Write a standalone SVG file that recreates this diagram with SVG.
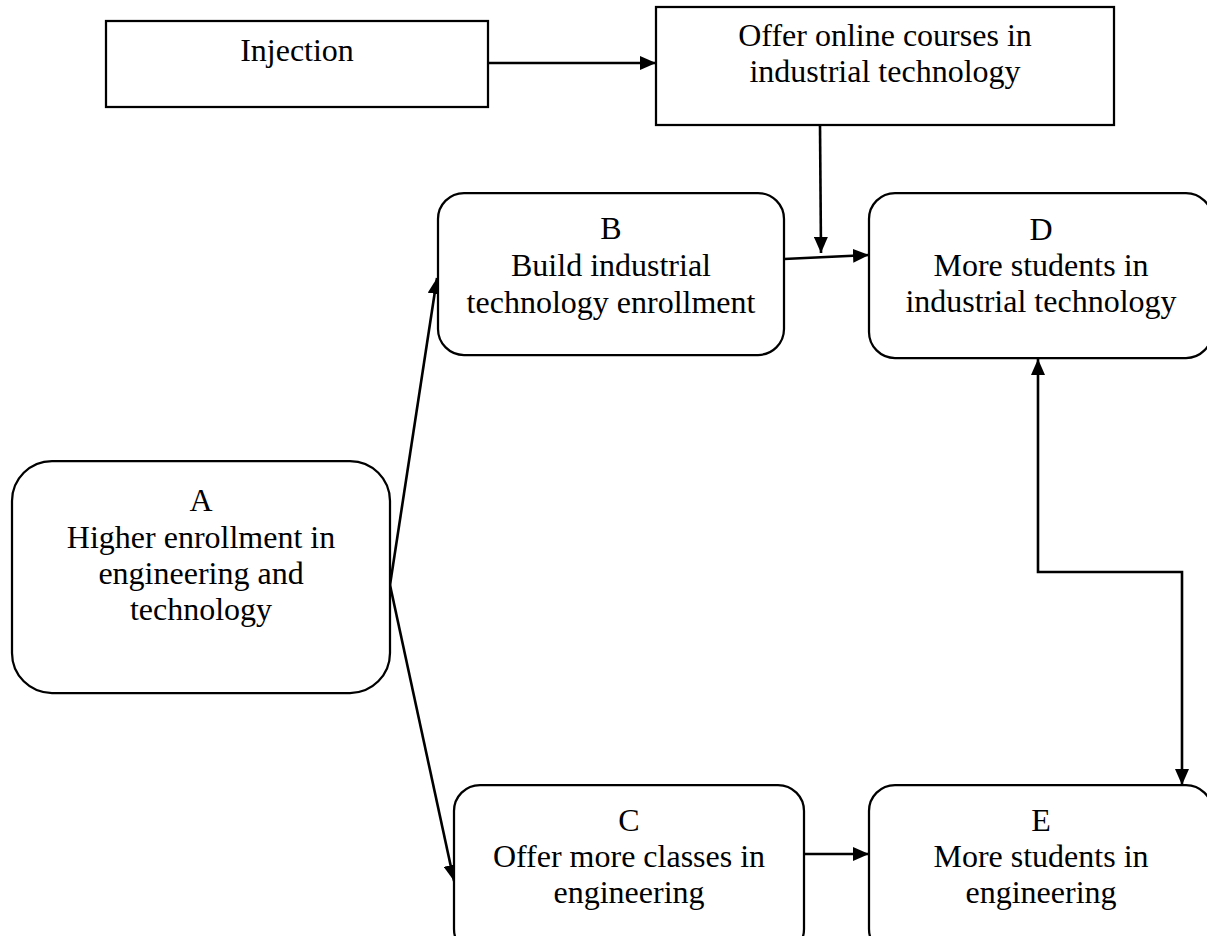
<svg xmlns="http://www.w3.org/2000/svg" width="1207" height="936" viewBox="0 0 1207 936">
  <style>
    .box { fill: #ffffff; stroke: #000000; stroke-width: 2.25; }
    .lbl { font-family: "Liberation Serif", "Times New Roman", serif; font-size: 32px; fill: #000000; text-anchor: middle; }
    .wire { fill: none; stroke: #000000; stroke-width: 2.6; }
  </style>
  <defs>
    <marker id="head" viewBox="0 0 16 14" refX="16" refY="7" markerWidth="16" markerHeight="14" markerUnits="userSpaceOnUse" orient="auto-start-reverse">
      <path d="M0,0 L16,7 L0,14 Z" fill="#000000"/>
    </marker>
  </defs>

  <rect width="1207" height="936" fill="#ffffff"/>

  <!-- connectors -->
  <g id="connectors">
    <path class="wire" d="M488,63 L656,63" marker-end="url(#head)"/>
    <path class="wire" d="M820,125 L821,253" marker-end="url(#head)"/>
    <path class="wire" d="M784,259 L869,255" marker-end="url(#head)"/>
    <path class="wire" d="M390,585 L437,278" marker-end="url(#head)"/>
    <path class="wire" d="M390,585 L454,881" marker-end="url(#head)"/>
    <path class="wire" d="M804,854 L869,854" marker-end="url(#head)"/>
    <path class="wire" d="M1038,359 L1038,572 L1182,572 L1182,785" marker-start="url(#head)" marker-end="url(#head)"/>
  </g>

  <g id="injection">
    <rect class="box" x="106" y="21" width="382" height="86"/>
    <text class="lbl" x="297" y="61">Injection</text>
  </g>

  <g id="online-courses">
    <rect class="box" x="656" y="7" width="458" height="118"/>
    <text class="lbl" x="885" y="46">Offer online courses in</text>
    <text class="lbl" x="885" y="82">industrial technology</text>
  </g>

  <g id="node-a">
    <rect class="box" x="12" y="461" width="378" height="232" rx="40" ry="40"/>
    <text class="lbl" x="201" y="511">A</text>
    <text class="lbl" x="201" y="548">Higher enrollment in</text>
    <text class="lbl" x="201" y="584">engineering and</text>
    <text class="lbl" x="201" y="620">technology</text>
  </g>

  <g id="node-b">
    <rect class="box" x="438" y="193" width="346" height="162" rx="26" ry="26"/>
    <text class="lbl" x="611" y="239">B</text>
    <text class="lbl" x="611" y="276">Build industrial</text>
    <text class="lbl" x="611" y="313">technology enrollment</text>
  </g>

  <g id="node-c">
    <rect class="box" x="454" y="785" width="350" height="170" rx="26" ry="26"/>
    <text class="lbl" x="629" y="831">C</text>
    <text class="lbl" x="629" y="867">Offer more classes in</text>
    <text class="lbl" x="629" y="903">engineering</text>
  </g>

  <g id="node-d">
    <rect class="box" x="869" y="193" width="343" height="165" rx="26" ry="26"/>
    <text class="lbl" x="1041" y="240">D</text>
    <text class="lbl" x="1041" y="276">More students in</text>
    <text class="lbl" x="1041" y="312">industrial technology</text>
  </g>

  <g id="node-e">
    <rect class="box" x="869" y="785" width="343" height="170" rx="26" ry="26"/>
    <text class="lbl" x="1041" y="831">E</text>
    <text class="lbl" x="1041" y="867">More students in</text>
    <text class="lbl" x="1041" y="903">engineering</text>
  </g>
</svg>
